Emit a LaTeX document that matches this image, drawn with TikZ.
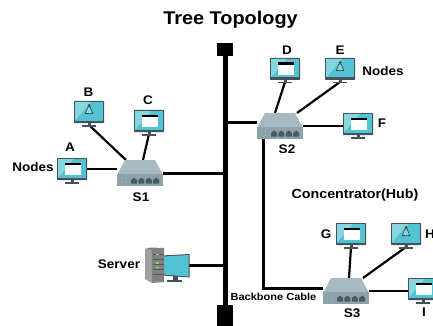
\documentclass[tikz,border=0pt]{standalone}
\usepackage{fontspec}
\setmainfont[FakeStretch=1.08]{Liberation Sans}
\pgfdeclarelayer{lk}
\pgfsetlayers{lk,main}
\definecolor{bezel}{HTML}{46525A}
\definecolor{scr}{HTML}{52C3D3}
\definecolor{scrl}{HTML}{86D6E0}
\definecolor{hubtop}{HTML}{A9B9C1}
\definecolor{hubfront}{HTML}{8EA2AD}
\definecolor{port}{HTML}{4A5A64}
\definecolor{led}{HTML}{86DA5C}
\tikzset{
  lbl/.style={font=\fontsize{12.5}{14}\selectfont\bfseries,inner sep=0pt},
  lblwide/.style={font=\fontsize{13.2}{15}\selectfont\bfseries,inner sep=0pt},
  tiny/.style={font=\fontsize{10.2}{12}\selectfont\bfseries,inner sep=0pt},
  titletext/.style={font=\fontsize{18.4}{22}\selectfont\bfseries,inner sep=0pt},
  link/.style={line width=2.2pt,black},
  trunk/.style={line width=3pt,black},
  monbox/.style={rectangle,fill=bezel,rounded corners=.7pt,minimum width=30pt,minimum height=22pt,inner sep=0pt,outer sep=0pt},
  hubbox/.style={rectangle,minimum width=46pt,minimum height=26pt,inner sep=0pt,outer sep=0pt},
  endcap/.style={rectangle,fill=black,inner sep=0pt,outer sep=0pt},
}
% name, left x, top y
\newcommand{\monbase}[3]{%
  \node[monbox] (#1) at (#2+15,#3+11) {};
  \coordinate (#1-foot) at (#2+15,#3+24);
  \begin{scope}[shift={(#2,#3)}]
    \fill[bezel] (13.5,22) rectangle (16.5,24);
    \fill[bezel] (8,24) rectangle (22,25.5);
    \fill[scr] (1,1) rectangle (29,19.5);
    \fill[scrl] (1,1) -- (17,1) -- (1,19.5) -- cycle;
  \end{scope}}
\newcommand{\winmon}[3]{\monbase{#1}{#2}{#3}%
  \begin{scope}[shift={(#2,#3)}]
    \fill[white] (7.5,4.5) rectangle (23.5,17);
    \fill[black] (7.5,4.5) rectangle (23.5,7);
  \end{scope}}
\newcommand{\tuxmon}[3]{\monbase{#1}{#2}{#3}%
  \begin{scope}[shift={(#2,#3)}]
    \fill[black!75] (15,4.5) circle (1.5);
    \draw[black!75,fill=scrl,line width=.6pt] (13.9,6) -- (11.2,12.6) -- (18.8,12.6) -- (16.1,6) -- cycle;
    \fill[black!75] (11,12.2) rectangle (13.5,13.3);
    \fill[black!75] (16.5,12.2) rectangle (19,13.3);
  \end{scope}}
% name, left x, top y
\newcommand{\hub}[3]{%
  \node[hubbox] (#1) at (#2+23,#3+13) {};
  \begin{scope}[shift={(#2,#3)}]
    \fill[hubtop] (8,0) -- (38,0) -- (46,15) -- (0,15) -- cycle;
    \fill[hubfront] (0,14) rectangle (46,26);
    \foreach \i in {0,1,2,3} {
      \fill[port] (14+7.4*\i,23.5) -- (14+7.4*\i,20) -- (17+7.4*\i,17.5) -- (20+7.4*\i,20) -- (20+7.4*\i,23.5) -- cycle;
    }
    \foreach \i in {4.5,8.5} \foreach \j in {18.5,22.5} {
      \fill[led] (\i-.8,\j-.8) rectangle (\i+.8,\j+.8);
    }
  \end{scope}}
\begin{document}
\begin{tikzpicture}[x=1pt,y=-1pt]
\clip (0,0) rectangle (433,326);
\begin{pgfonlayer}{lk}
  \fill[white] (0,0) rectangle (433,326);
\end{pgfonlayer}

\node[titletext] (title) at (230.5,20) {Tree Topology};

% bus ends
\node[endcap,minimum width=16pt,minimum height=13pt] (bustop) at (225,49.5) {};
\node[endcap,minimum width=16pt,minimum height=21pt] (busbot) at (225,315.5) {};

% devices
\winmon{A}{57}{158}
\tuxmon{B}{74}{101}
\winmon{C}{134}{110}
\winmon{D}{270}{58}
\tuxmon{E}{325}{58}
\winmon{F}{343}{113}
\winmon{G}{336}{223}
\tuxmon{H}{391}{223}
\winmon{I}{408}{278}
\hub{S1}{117}{160}
\hub{S2}{257}{113}
\hub{S3}{323}{278}

% server
\node[rectangle,minimum width=44pt,minimum height=35pt,inner sep=0pt,outer sep=0pt] (Server) at (167,265.5) {};
\fill[bezel] (172.5,276) rectangle (177.5,280);
\fill[bezel] (167,279.5) rectangle (182,281.5);
\fill[bezel] (162,255.5) -- (189.5,254) -- (189.5,277.5) -- (162,275.5) -- cycle;
\fill[scr] (163,256.5) -- (188.5,255) -- (188.5,276.5) -- (163,274.5) -- cycle;
\fill[gray!75] (145,249) -- (152,250) -- (152,283) -- (145,279) -- cycle;
\fill[gray] (145,249) -- (150,247.5) -- (164,248) -- (164,282) -- (152,283) -- (152,250) -- cycle;
\foreach \y in {254,259,264,269,274} {
  \draw[black!65,line width=.8pt] (152.5,\y) -- (163.5,\y);
}
\foreach \y in {254.5,263,267.5} {
  \fill[led] (156,\y-.8) rectangle (158.5,\y+.8);
}

% connectors
\begin{pgfonlayer}{lk}
  \draw[line width=5pt] (bustop) -- (busbot);
  \draw[trunk] (S1.east) -- (S1.east -| bustop);
  \draw[trunk] ([yshift=4pt]S2.west) -- ([yshift=4pt]S2.west -| bustop);
  \draw[trunk] (Server.east) -- (Server.east -| bustop);
  \draw[trunk] ([xshift=6pt]S2.south west) |- ([yshift=3pt]S3.west);
  \draw[link] (A.east) -- (A.east -| S1.west);
  \draw[link] (B-foot) -- ([xshift=-14pt]S1.north);
  \draw[link] (C-foot) -- ([xshift=3pt]S1.north);
  \draw[link] (D-foot) -- ([xshift=-5pt]S2.north);
  \draw[link] (E-foot) -- ([xshift=17pt]S2.north);
  \draw[link] (S2.east) -- (F.west |- S2.east);
  \draw[link] (G-foot) -- ([xshift=3pt]S3.north);
  \draw[link] (H-foot) -- ([xshift=17pt]S3.north);
  \draw[link] (S3.east) -- (I.west |- S3.east);
\end{pgfonlayer}

% labels
\node[lbl] (la) at (70,147) {A};
\node[lbl] (lb) at (88.5,92) {B};
\node[lbl] (lc) at (148,100) {C};
\node[lbl] (nl) at (33,167.5) {Nodes};
\node[lbl] (s1) at (141,197) {S1};
\node[lbl] (ld) at (287,50) {D};
\node[lbl] (le) at (340,50) {E};
\node[lbl] (nr) at (383,71) {Nodes};
\node[lbl] (lf) at (382,123) {F};
\node[lbl] (s2) at (287,149) {S2};
\node[lblwide] (hubl) at (355,195) {Concentrator(Hub)};
\node[lbl] (lg) at (326,234) {G};
\node[lbl] (lh) at (430,234) {H};
\node[lbl] (li) at (424,312) {I};
\node[lbl] (s3) at (352,313) {S3};
\node[tiny] (bb) at (273.5,297) {Backbone Cable};
\node[lbl] (sv) at (119,264) {Server};
\end{tikzpicture}
\end{document}
